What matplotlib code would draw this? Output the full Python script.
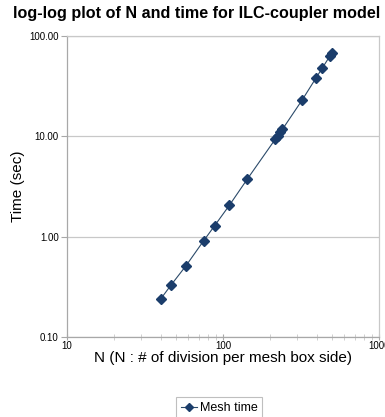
import matplotlib.pyplot as plt
from matplotlib.ticker import FixedLocator, NullFormatter, LogLocator

plt.rcParams['font.family'] = ['Liberation Sans', 'DejaVu Sans']

# N values and mesh time (sec)
n_div = [40, 46.4, 57.7, 75, 88.5, 110, 143, 216, 224, 233, 240, 321, 394, 433, 483, 498]
mesh_time = [0.241, 0.329, 0.509, 0.906, 1.29, 2.06, 3.74, 9.33, 10.1, 11.0, 11.7,
             22.9, 38.0, 47.9, 62.7, 67.6]

y_ticks = [0.1, 1, 10, 100]
y_labels = ['0.10', '1.00', '10.00', '100.00']
x_ticks = [10, 100, 1000]
x_labels = ['10', '100', '1000']

fig = plt.figure(figsize=(3.85, 4.17), dpi=100)
ax = fig.add_axes([67/385, 1-337/417, (379-67)/385, (337-36)/417])

ax.plot(n_div, mesh_time, color='#2b4a6a', lw=0.8, marker='D', ms=5.5,
        mfc='#1b3d6b', mec='#1b3d6b', label='Mesh time')

ax.set_xscale('log')
ax.set_yscale('log')
ax.set_xlim(10, 1000)
ax.set_ylim(0.1, 100)

ax.yaxis.set_major_locator(FixedLocator(y_ticks))
ax.set_yticklabels(y_labels)
ax.yaxis.set_minor_locator(FixedLocator([]))
ax.xaxis.set_major_locator(FixedLocator(x_ticks))
ax.set_xticklabels(x_labels)
ax.xaxis.set_minor_locator(LogLocator(base=10, subs=range(2, 10)))
ax.xaxis.set_minor_formatter(NullFormatter())

ax.grid(axis='y', which='major', color='#c8c8c8', lw=0.9)
for s in ax.spines.values():
    s.set_color('#c8c8c8')
    s.set_linewidth(0.9)
ax.spines['left'].set_color('#a8a8a8')
ax.spines['bottom'].set_color('#a8a8a8')

ax.tick_params(axis='y', which='major', length=4, color='#a8a8a8', labelsize=7, pad=2)
ax.tick_params(axis='x', which='major', length=4, direction='inout', color='#a8a8a8',
               labelsize=7, pad=1)
ax.tick_params(axis='x', which='minor', length=4, direction='inout', color='#c8c8c8')

ax.set_ylabel('Time (sec)', fontsize=11)
ax.yaxis.set_label_coords(-0.135, 0.5)
ax.set_xlabel('N (N : # of division per mesh box side)', fontsize=11, labelpad=0)
fig.suptitle('log-log plot of N and time for ILC-coupler model', fontsize=11.6,
             fontweight='bold', x=0.51, y=0.985)

leg = fig.legend(loc='center', bbox_to_anchor=(219/385, 1-408/417), fontsize=9,
                 frameon=True, fancybox=False, handlelength=1.3, handletextpad=0.2,
                 borderpad=0.4, markerscale=0.75)
leg.get_frame().set_edgecolor('#b0b0b0')
leg.get_frame().set_linewidth(0.8)

fig.savefig('out.png', dpi=100)
